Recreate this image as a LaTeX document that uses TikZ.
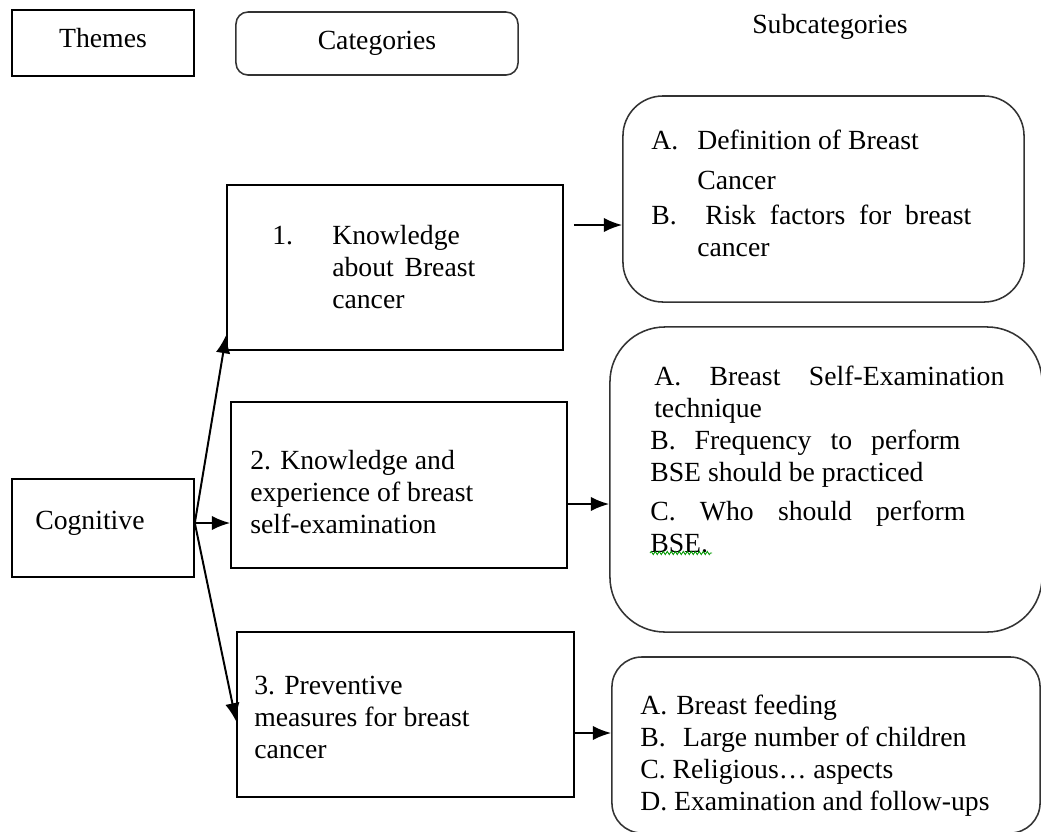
\documentclass[tikz,border=0pt]{standalone}
\usepackage{fontspec}
\setmainfont{Liberation Serif}
\usetikzlibrary{arrows.meta,decorations.pathmorphing}

\newcommand{\jline}[2]{\makebox[#1][s]{#2}}

\begin{document}
\begin{tikzpicture}[x=0.025cm, y=-0.025cm,
    box/.style={draw, line width=1.1pt, inner sep=0pt},
    roundbox/.style={box, draw=black!80, rounded corners=#1},
    txt/.style={font=\fontsize{19.7}{22.8}\selectfont, inner sep=0pt, align=left},
    arr/.style={line width=1.4pt, -{Latex[length=4.6mm, width=3.6mm]}}]

    \useasboundingbox (0,0) rectangle (1041,831);
    \clip (0,0) rectangle (1041,831);

    % Define the headings
    \node[box, txt, text depth=0.25cm, minimum width=4.55cm, minimum height=1.65cm] (themes) at (103,43) {Themes};
    \node[roundbox=0.3cm, txt, minimum width=7.05cm, minimum height=1.575cm] (cats) at (377,43.5) {Categories};
    \node[txt] (subcats) at (830,27) {Subcategories};

    % Define the theme
    \node[box, minimum width=4.55cm, minimum height=2.45cm] (cog) at (103,528) {};
    \node[txt, anchor=west] (cogtxt) at (35,523) {Cognitive};

    % Define the categories
    \node[box, minimum width=8.4cm, minimum height=4.125cm] (know) at (395,267.5) {};
    \node[box, minimum width=8.4cm, minimum height=4.15cm] (bse) at (399,485) {};
    \node[box, minimum width=8.425cm, minimum height=4.125cm] (prev) at (405.5,714.5) {};

    \node[txt, anchor=north west] (knowtxt) at (272,225)
        {\makebox[1.5cm][l]{1.}Knowledge\\
         \hspace*{1.5cm}\jline{3.575cm}{about Breast}\\
         \hspace*{1.5cm}cancer};
    \node[txt, anchor=north west] (bsetxt) at (250,450)
        {2. Knowledge and\\experience of breast\\self-examination};
    \node[txt, anchor=north west] (prevtxt) at (254,676)
        {3. Preventive\\measures for breast\\cancer};

    % Define the subcategories
    \node[roundbox=1cm, minimum width=10.025cm, minimum height=5.15cm] (sub1) at (823.5,199) {};
    \node[roundbox=1.375cm, minimum width=10.8cm, minimum height=7.625cm] (sub2) at (826,479.5) {};
    \node[roundbox=0.75cm, minimum width=10.7cm, minimum height=4.4cm] (sub3) at (826,745) {};

    \node[txt, anchor=north west] (sub1txt) at (651,130)
        {\makebox[1.15cm][l]{A.}Definition of Breast\\[0.2cm]
         \hspace*{1.15cm}Cancer\\[0.075cm]
         \jline{8cm}{\makebox[1.35cm][l]{B.}Risk factors for breast}\\
         \hspace*{1.15cm}cancer};
    \node[txt, anchor=north west] (sub2txt) at (650,366)
        {\hspace*{0.1cm}\jline{8.75cm}{A. Breast Self-Examination}\\
         \hspace*{0.1cm}technique\\
         \jline{7.75cm}{B. Frequency to perform}\\
         BSE should be practiced\\[0.15cm]
         \jline{7.875cm}{C. Who should perform}\\
         BSE.};
    \node[txt, anchor=north west] (sub3txt) at (640,695)
        {\makebox[0.9cm][l]{A.}Breast feeding\\
         \makebox[1.07cm][l]{B.}Large number of children\\
         C. Religious… aspects\\
         D. Examination and follow-ups};

    % Spelling mark under BSE.
    \draw[green!60!black, line width=0.6pt, decorate,
          decoration={snake, amplitude=0.04cm, segment length=0.1cm}] (650,553) -- (712,553);

    % Draw the arrows from the theme
    \coordinate (c0) at ([shift={(0,-5)}]cog.east);
    \draw[arr] (c0) -- ([shift={(0,-16)}]know.south west);
    \draw[arr] (c0) -- (c0 -| bse.west);
    \draw[arr] (c0) -- ([shift={(0,7)}]prev.west);

    % Draw the arrows to the subcategories
    \draw[arr] ([shift={(10,-42.5)}]know.east) coordinate (k1) -- (k1 -| sub1.west);
    \draw[arr] ([shift={(0,19)}]bse.east) coordinate (k2) -- (k2 -| sub2.west);
    \draw[arr] ([shift={(0,18.5)}]prev.east) coordinate (k3) -- (k3 -| sub3.west);

\end{tikzpicture}
\end{document}
